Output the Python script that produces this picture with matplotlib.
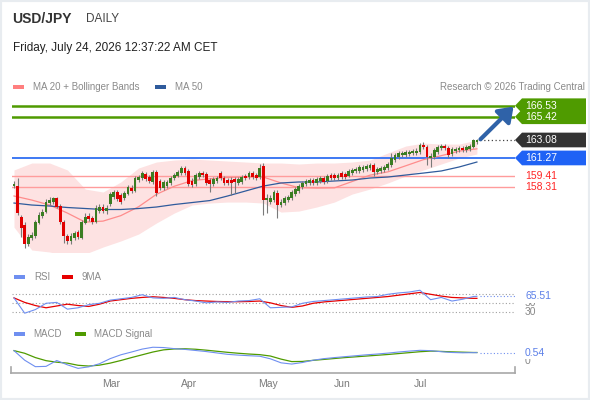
import matplotlib
matplotlib.use("Agg")
import matplotlib.pyplot as plt
import matplotlib.transforms as mtransforms
from matplotlib.patches import Polygon, Rectangle
from matplotlib.lines import Line2D
import numpy as np
import pandas as pd

plt.rcParams['font.family'] = ['Liberation Sans', 'DejaVu Sans']

# Daily candles 23 Jan - 24 Jul 2026
dates = pd.bdate_range('2026-01-23', '2026-07-24')

opens = [158.44, 158.44, 155.32, 154.51, 152.60, 153.20, 153.40, 154.71, 155.42, 155.82,
         156.73, 156.83, 157.23, 156.43, 154.81, 153.40, 152.90, 153.20, 153.81, 153.20,
         154.71, 155.42, 155.22, 154.81, 155.92, 156.33, 155.92, 156.63, 157.33, 157.84,
         157.54, 157.23, 157.64, 158.24, 157.94, 159.05, 159.25, 159.65, 159.35, 158.85,
         159.85, 158.95, 158.24, 158.44, 158.75, 159.25, 159.45, 159.75, 160.26, 159.96,
         158.95, 158.64, 159.35, 159.75, 159.65, 159.05, 158.64, 158.95, 159.75, 159.25,
         159.05, 159.05, 159.15, 158.75, 158.85, 159.45, 159.35, 159.75, 159.55, 159.35,
         160.46, 157.03, 156.83, 157.03, 157.74, 156.53, 156.73, 157.03, 157.23, 157.64,
         157.94, 158.34, 158.64, 158.75, 159.05, 158.75, 158.95, 159.25, 158.95, 159.55,
         159.55, 159.25, 159.75, 159.65, 159.45, 159.75, 159.96, 159.96, 160.06, 160.16,
         160.26, 160.56, 159.85, 159.96, 160.06, 160.26, 160.56, 161.06, 161.37, 161.57,
         161.57, 161.67, 161.77, 161.77, 161.87, 162.57, 162.37, 161.26, 161.37, 161.87,
         162.27, 162.47, 162.27, 161.67, 161.97, 162.07, 162.27, 162.07, 162.17, 162.37,
         162.90]
highs = [158.95, 159.25, 155.52, 154.81, 153.60, 153.81, 155.02, 155.82, 156.12, 157.13,
         157.33, 157.33, 157.33, 156.63, 155.02, 153.60, 153.70, 153.91, 154.01, 155.02,
         155.72, 155.72, 155.42, 156.53, 156.63, 156.63, 156.53, 157.84, 158.04, 158.04,
         157.74, 157.94, 158.54, 158.54, 159.45, 159.55, 159.96, 159.85, 159.55, 160.06,
         160.06, 159.15, 159.05, 159.05, 159.45, 159.75, 160.06, 160.46, 160.46, 160.16,
         159.25, 159.75, 159.96, 159.96, 159.85, 159.25, 159.35, 159.45, 159.96, 159.45,
         159.25, 159.35, 159.35, 159.35, 159.55, 159.65, 159.96, 159.96, 159.75, 160.66,
         160.76, 157.64, 157.54, 158.04, 158.04, 157.13, 157.44, 157.54, 158.04, 158.34,
         158.64, 158.95, 159.15, 159.25, 159.25, 159.35, 159.45, 159.45, 159.65, 159.75,
         159.75, 159.75, 159.96, 159.85, 160.16, 160.26, 160.36, 160.56, 160.56, 160.66,
         160.76, 160.76, 160.36, 160.46, 160.56, 160.86, 161.77, 161.77, 161.97, 161.97,
         162.07, 162.07, 162.17, 162.27, 162.77, 162.87, 162.57, 161.77, 162.27, 162.57,
         162.67, 162.67, 162.47, 162.37, 162.37, 162.47, 162.47, 162.57, 162.67, 163.17,
         163.17]
lows = [158.24, 155.52, 153.30, 152.19, 152.39, 153.00, 153.20, 154.61, 155.22, 155.72,
        156.53, 156.63, 156.23, 154.61, 152.70, 152.60, 152.60, 153.00, 153.10, 153.10,
        154.61, 154.91, 154.61, 154.71, 155.72, 155.72, 155.62, 156.43, 157.13, 156.93,
        156.63, 157.03, 157.54, 157.74, 157.84, 158.85, 159.05, 158.95, 158.75, 158.64,
        157.44, 158.04, 158.04, 158.24, 158.54, 159.05, 159.35, 159.55, 159.55, 158.44,
        158.34, 158.44, 159.15, 159.35, 158.54, 157.84, 158.44, 158.75, 159.05, 158.54,
        158.54, 157.54, 157.74, 158.54, 158.64, 159.05, 159.15, 159.15, 159.05, 159.15,
        155.52, 155.72, 156.63, 156.83, 155.22, 156.33, 156.53, 156.83, 157.03, 157.44,
        157.74, 158.14, 158.44, 158.54, 158.54, 158.54, 158.75, 158.64, 158.75, 159.05,
        159.05, 159.05, 159.15, 159.15, 159.35, 159.55, 159.75, 159.75, 159.85, 159.96,
        160.06, 159.45, 159.65, 159.75, 159.85, 160.06, 160.36, 160.86, 161.16, 161.37,
        161.37, 161.47, 161.57, 161.57, 161.67, 162.17, 160.56, 160.36, 161.16, 161.67,
        162.07, 162.07, 161.26, 161.47, 161.77, 161.87, 161.87, 161.87, 161.97, 162.27,
        162.70]
closes = [158.64, 155.72, 154.21, 152.60, 153.30, 153.50, 154.81, 155.52, 155.82, 156.83,
          157.03, 157.23, 156.33, 154.81, 153.40, 152.90, 153.40, 153.70, 153.30, 154.81,
          155.32, 155.12, 154.81, 156.23, 156.33, 155.92, 156.23, 157.64, 157.84, 157.13,
          156.83, 157.74, 158.34, 157.94, 159.25, 159.35, 159.75, 159.15, 158.95, 159.85,
          157.74, 158.24, 158.85, 158.85, 159.25, 159.55, 159.85, 160.26, 159.75, 158.64,
          158.54, 159.55, 159.75, 159.55, 158.75, 158.64, 159.15, 159.25, 159.25, 158.75,
          158.75, 158.75, 158.85, 159.15, 159.35, 159.25, 159.75, 159.35, 159.25, 160.26,
          157.03, 157.23, 157.23, 157.84, 156.53, 156.83, 157.23, 157.33, 157.84, 158.14,
          158.44, 158.75, 158.95, 159.05, 158.75, 159.15, 159.25, 158.85, 159.45, 159.25,
          159.25, 159.55, 159.35, 159.35, 159.96, 160.06, 160.16, 160.36, 160.36, 160.46,
          160.56, 159.85, 160.16, 160.26, 160.36, 160.66, 161.26, 161.57, 161.77, 161.77,
          161.87, 161.87, 161.97, 161.97, 162.57, 162.37, 161.37, 161.47, 162.07, 162.37,
          162.47, 162.27, 161.57, 162.17, 162.17, 162.27, 162.07, 162.37, 162.47, 163.07,
          163.08]

# MA 20, Bollinger bands and MA 50, read every 5th session
ind_idx = list(range(0, 131, 5))
ma20 = [157.44, 157.03, 156.53, 155.72, 154.81, 154.91, 155.46, 156.36, 157.61, 158.42,
        158.99, 159.17, 159.30, 159.35, 159.35, 158.75, 158.28, 158.24, 158.26, 158.90,
        159.54, 159.87, 160.48, 161.10, 161.50, 161.96, 162.19]
bb_upper = [160.06, 160.76, 160.76, 160.06, 158.14, 157.84, 158.85, 160.26, 160.86, 161.06,
            161.16, 161.06, 160.96, 160.86, 160.76, 160.76, 160.66, 160.76, 160.76, 160.86,
            161.06, 161.77, 162.47, 162.77, 162.67, 162.67, 163.07]
bb_lower = [154.30, 152.00, 151.80, 151.40, 151.60, 152.30, 152.91, 153.61, 154.72, 155.72,
            156.53, 156.73, 156.83, 156.83, 156.73, 155.82, 155.92, 156.33, 156.83, 157.64,
            158.14, 158.75, 159.45, 160.06, 160.66, 161.26, 161.67]
ma50 = [156.73, 156.53, 156.43, 156.28, 156.18, 156.08, 156.08, 156.18, 156.33, 156.58,
        156.78, 156.98, 157.44, 157.94, 158.44, 158.75, 158.85, 158.85, 158.95, 159.05,
        159.25, 159.35, 159.55, 159.75, 159.96, 160.36, 160.86]

# RSI / MACD, read every 3rd session
osc_idx = list(range(0, 130, 3)) + [130]
rsi = [62, 28, 36, 50, 52, 37, 40, 47, 50, 57, 60, 63, 69, 62, 61, 63, 58, 55, 51, 53,
       52, 55, 56, 60, 40, 41, 42, 50, 54, 56, 58, 60, 62, 64, 65, 70, 73, 75, 79, 58,
       63, 55, 59, 65, 65.51]
rsi_ma = [62, 52, 45, 40, 44, 48, 45, 43, 48, 55, 58, 61, 63, 64.5, 63, 61, 58, 56, 55, 54,
          53.5, 53.5, 54, 55, 51, 45, 41, 44, 50, 53, 55, 57, 59, 61, 63, 65, 68, 71, 74, 70,
          66, 63, 62, 61, 61]
macd = [0.67, 0.05, -0.37, -0.35, 0.03, -0.25, -0.48, -0.38, -0.18, 0.15,
        0.40, 0.58, 0.77, 0.89, 0.87, 0.80, 0.75, 0.68, 0.61, 0.52,
        0.43, 0.38, 0.34, 0.31, 0.14, -0.12, -0.20, -0.10, 0.05, 0.15,
        0.22, 0.28, 0.34, 0.40, 0.45, 0.51, 0.58, 0.64, 0.69, 0.67,
        0.60, 0.55, 0.53, 0.54, 0.54]
signal = [0.67, 0.50, 0.22, 0.02, -0.08, -0.14, -0.28, -0.33, -0.27, -0.14,
          0.03, 0.22, 0.40, 0.58, 0.72, 0.78, 0.79, 0.76, 0.70, 0.63,
          0.56, 0.50, 0.45, 0.41, 0.32, 0.12, -0.04, -0.03, 0.04, 0.10,
          0.16, 0.22, 0.27, 0.32, 0.37, 0.42, 0.48, 0.54, 0.60, 0.64,
          0.62, 0.59, 0.57, 0.55, 0.55]

resistances = [166.53, 165.42]
last_price = 163.08
pivot = 161.27
supports = [159.41, 158.31]
rsi_last = 65.51
macd_last = 0.54
month_names = ['Mar', 'Apr', 'May', 'Jun', 'Jul']


def fx(px):
    return px / 590


def fy(py):
    return 1 - py / 400


fig = plt.figure(figsize=(5.9, 4.0), dpi=100)
fig.patch.set_facecolor('white')
xlim = (-0.56, 140.7)
left = fx(12)
width = fx(515) - fx(12)

# price panel
ax = fig.add_axes([left, fy(252), width, fy(95) - fy(252)])
ax.set_xlim(*xlim)
ax.set_ylim(151.8, 167.61)
ax.set_axis_off()

x = np.arange(len(closes))
o = np.array(opens)
c = np.array(closes)
ax.fill_between(ind_idx, bb_lower, bb_upper, color='#fde2e2', lw=0, zorder=1)
for v in resistances:
    ax.axhline(v, color='#4f9b00', lw=1.8, zorder=2)
ax.axhline(pivot, color='#2f6ef2', lw=1.3, zorder=2)
for v in supports:
    ax.axhline(v, color='#ff9c9c', lw=1.0, zorder=2)
ax.plot(ind_idx, ma20, color='#ff8c8c', lw=0.9, zorder=3)
ax.plot(ind_idx, ma50, color='#2f5b9c', lw=0.9, zorder=3)

body_col = np.where(c >= o, '#3b7d23', '#e00000')
ax.vlines(x, lows, highs, color='#7a7a7a', lw=0.8, zorder=4)
body = np.maximum(np.abs(c - o), 0.06)
ax.bar(x, body, bottom=np.minimum(o, c), width=0.78, color=body_col, lw=0, zorder=5)

ax.hlines(last_price, x[-1] + 1, xlim[1], colors='#444444', linestyles=(0, (1, 2)), lw=0.9)
ax.annotate('', xy=(140.3, 166.45), xytext=(131.0, 163.15),
            arrowprops=dict(arrowstyle='-|>,head_length=0.7,head_width=0.5', lw=3,
                            color='#2f62a8', mutation_scale=12, shrinkA=0, shrinkB=0),
            annotation_clip=False, zorder=6)

trans = mtransforms.blended_transform_factory(fig.transFigure, ax.transData)


def tag(v, color, h=0.74):
    pts = [(fx(515), v), (fx(522), v + h), (fx(586), v + h), (fx(586), v - h), (fx(522), v - h)]
    ax.add_patch(Polygon(pts, closed=True, transform=trans, facecolor=color,
                         edgecolor='none', clip_on=False, zorder=7))
    ax.text(fx(525), v, f'{v:.2f}', transform=trans, color='white', fontsize=7.5,
            va='center', ha='left', clip_on=False, zorder=8)


for v in resistances:
    tag(v, '#4f9b00')
tag(last_price, '#333333')
tag(pivot, '#1f62f5')
for v in supports:
    ax.text(fx(525), v, f'{v:.2f}', transform=trans, color='#ff2424', fontsize=7.5,
            va='center', ha='left', clip_on=False)

# RSI panel
ax_rsi = fig.add_axes([left, fy(318), width, fy(287) - fy(318)])
ax_rsi.set_xlim(*xlim)
ax_rsi.set_ylim(17.3, 86.2)
ax_rsi.set_axis_off()
for v in [70, 50, 30]:
    ax_rsi.axhline(v, color='#a0a0a0', ls=(0, (1, 2)), lw=0.8)
ax_rsi.plot(osc_idx, rsi_ma, color='#e60000', lw=0.9)
ax_rsi.plot(osc_idx, rsi, color='#6f8ff0', lw=0.8)
ax_rsi.hlines(rsi_last, x[-1] + 1, xlim[1], colors='#6f8ff0', linestyles=(0, (1, 2)), lw=0.8)
trans_rsi = mtransforms.blended_transform_factory(fig.transFigure, ax_rsi.transData)
for v in [50, 30]:
    ax_rsi.text(fx(525), v, str(v), transform=trans_rsi, color='#888888', fontsize=7.5,
                va='center', ha='left', clip_on=False)
ax_rsi.text(fx(525), rsi_last, f'{rsi_last:.2f}', transform=trans_rsi, color='#5b7fe8',
            fontsize=7.5, va='center', ha='left', clip_on=False,
            bbox=dict(facecolor='white', edgecolor='none', pad=1.2))

# MACD panel
ax_macd = fig.add_axes([left, fy(373), width, fy(342) - fy(373)])
ax_macd.set_xlim(*xlim)
ax_macd.set_ylim(-0.78, 1.23)
ax_macd.set_axis_off()
ax_macd.plot(osc_idx, signal, color='#4f9b00', lw=0.9)
ax_macd.plot(osc_idx, macd, color='#6f8ff0', lw=0.8)
ax_macd.hlines(macd_last, x[-1] + 1, xlim[1], colors='#6f8ff0', linestyles=(0, (1, 2)), lw=0.8)
trans_macd = mtransforms.blended_transform_factory(fig.transFigure, ax_macd.transData)
ax_macd.text(fx(525), 0, '0', transform=trans_macd, color='#888888', fontsize=7.5,
             va='center', ha='left', clip_on=False)
ax_macd.text(fx(525), macd_last, f'{macd_last:.2f}', transform=trans_macd, color='#5b7fe8',
             fontsize=7.5, va='center', ha='left', clip_on=False,
             bbox=dict(facecolor='white', edgecolor='none', pad=1.2))

# time axis
axis_col = '#a8a8a8'
fig.add_artist(Line2D([fx(11), fx(515)], [fy(373), fy(373)], color=axis_col, lw=1.2))
fig.add_artist(Line2D([fx(11), fx(11)], [fy(373), fy(367)], color=axis_col, lw=1.2))
fig.add_artist(Line2D([fx(515), fx(515)], [fy(373), fy(367)], color=axis_col, lw=1.2))
month_idx = [i for i in range(1, len(dates)) if dates[i].month != dates[i - 1].month]
trans_month = mtransforms.blended_transform_factory(ax_macd.transData, fig.transFigure)
for i in month_idx:
    name = dates[i].strftime('%b')
    if name in month_names:
        ax_macd.text(i + 1.2, fy(384), name, transform=trans_month, color='#7a7a7a',
                     fontsize=7.5, ha='center', va='center', clip_on=False)

# header
fig.text(fx(12), fy(19), 'USD/JPY', fontsize=10, fontweight='bold', color='#333333', va='center')
fig.text(fx(86), fy(19), 'DAILY', fontsize=8.5, color='#444444', va='center')
fig.text(fx(13), fy(48.5), 'Friday, July 24, 2026 12:37:22 AM CET', fontsize=8.5,
         color='#222222', va='center')


def legend_key(px, py, color, label, tx):
    fig.add_artist(Rectangle((fx(px), fy(py + 1.8)), fx(11), 3.6 / 400,
                             transform=fig.transFigure, color=color, lw=0))
    fig.text(fx(tx), fy(py), label, fontsize=7, color='#8a8a8a', va='center')


legend_key(13, 86.7, '#ff7f7f', 'MA 20 + Bollinger Bands', 33)
legend_key(155, 86.7, '#2f5b9c', 'MA 50', 175)
fig.text(fx(585), fy(86.7), 'Research \u00a9 2026 Trading Central', fontsize=7,
         color='#8a8a8a', va='center', ha='right')
legend_key(14, 277, '#6f8ff0', 'RSI', 34)
legend_key(62, 277, '#e60000', '9MA', 81)
legend_key(14, 334, '#6f8ff0', 'MACD', 33)
legend_key(75, 334, '#4f9b00', 'MACD Signal', 94)

fig.add_artist(Rectangle((0, 0), 1, 1, transform=fig.transFigure, fill=False,
                         edgecolor='#e8ecf0', lw=3))

fig.savefig('out.png', dpi=100)
